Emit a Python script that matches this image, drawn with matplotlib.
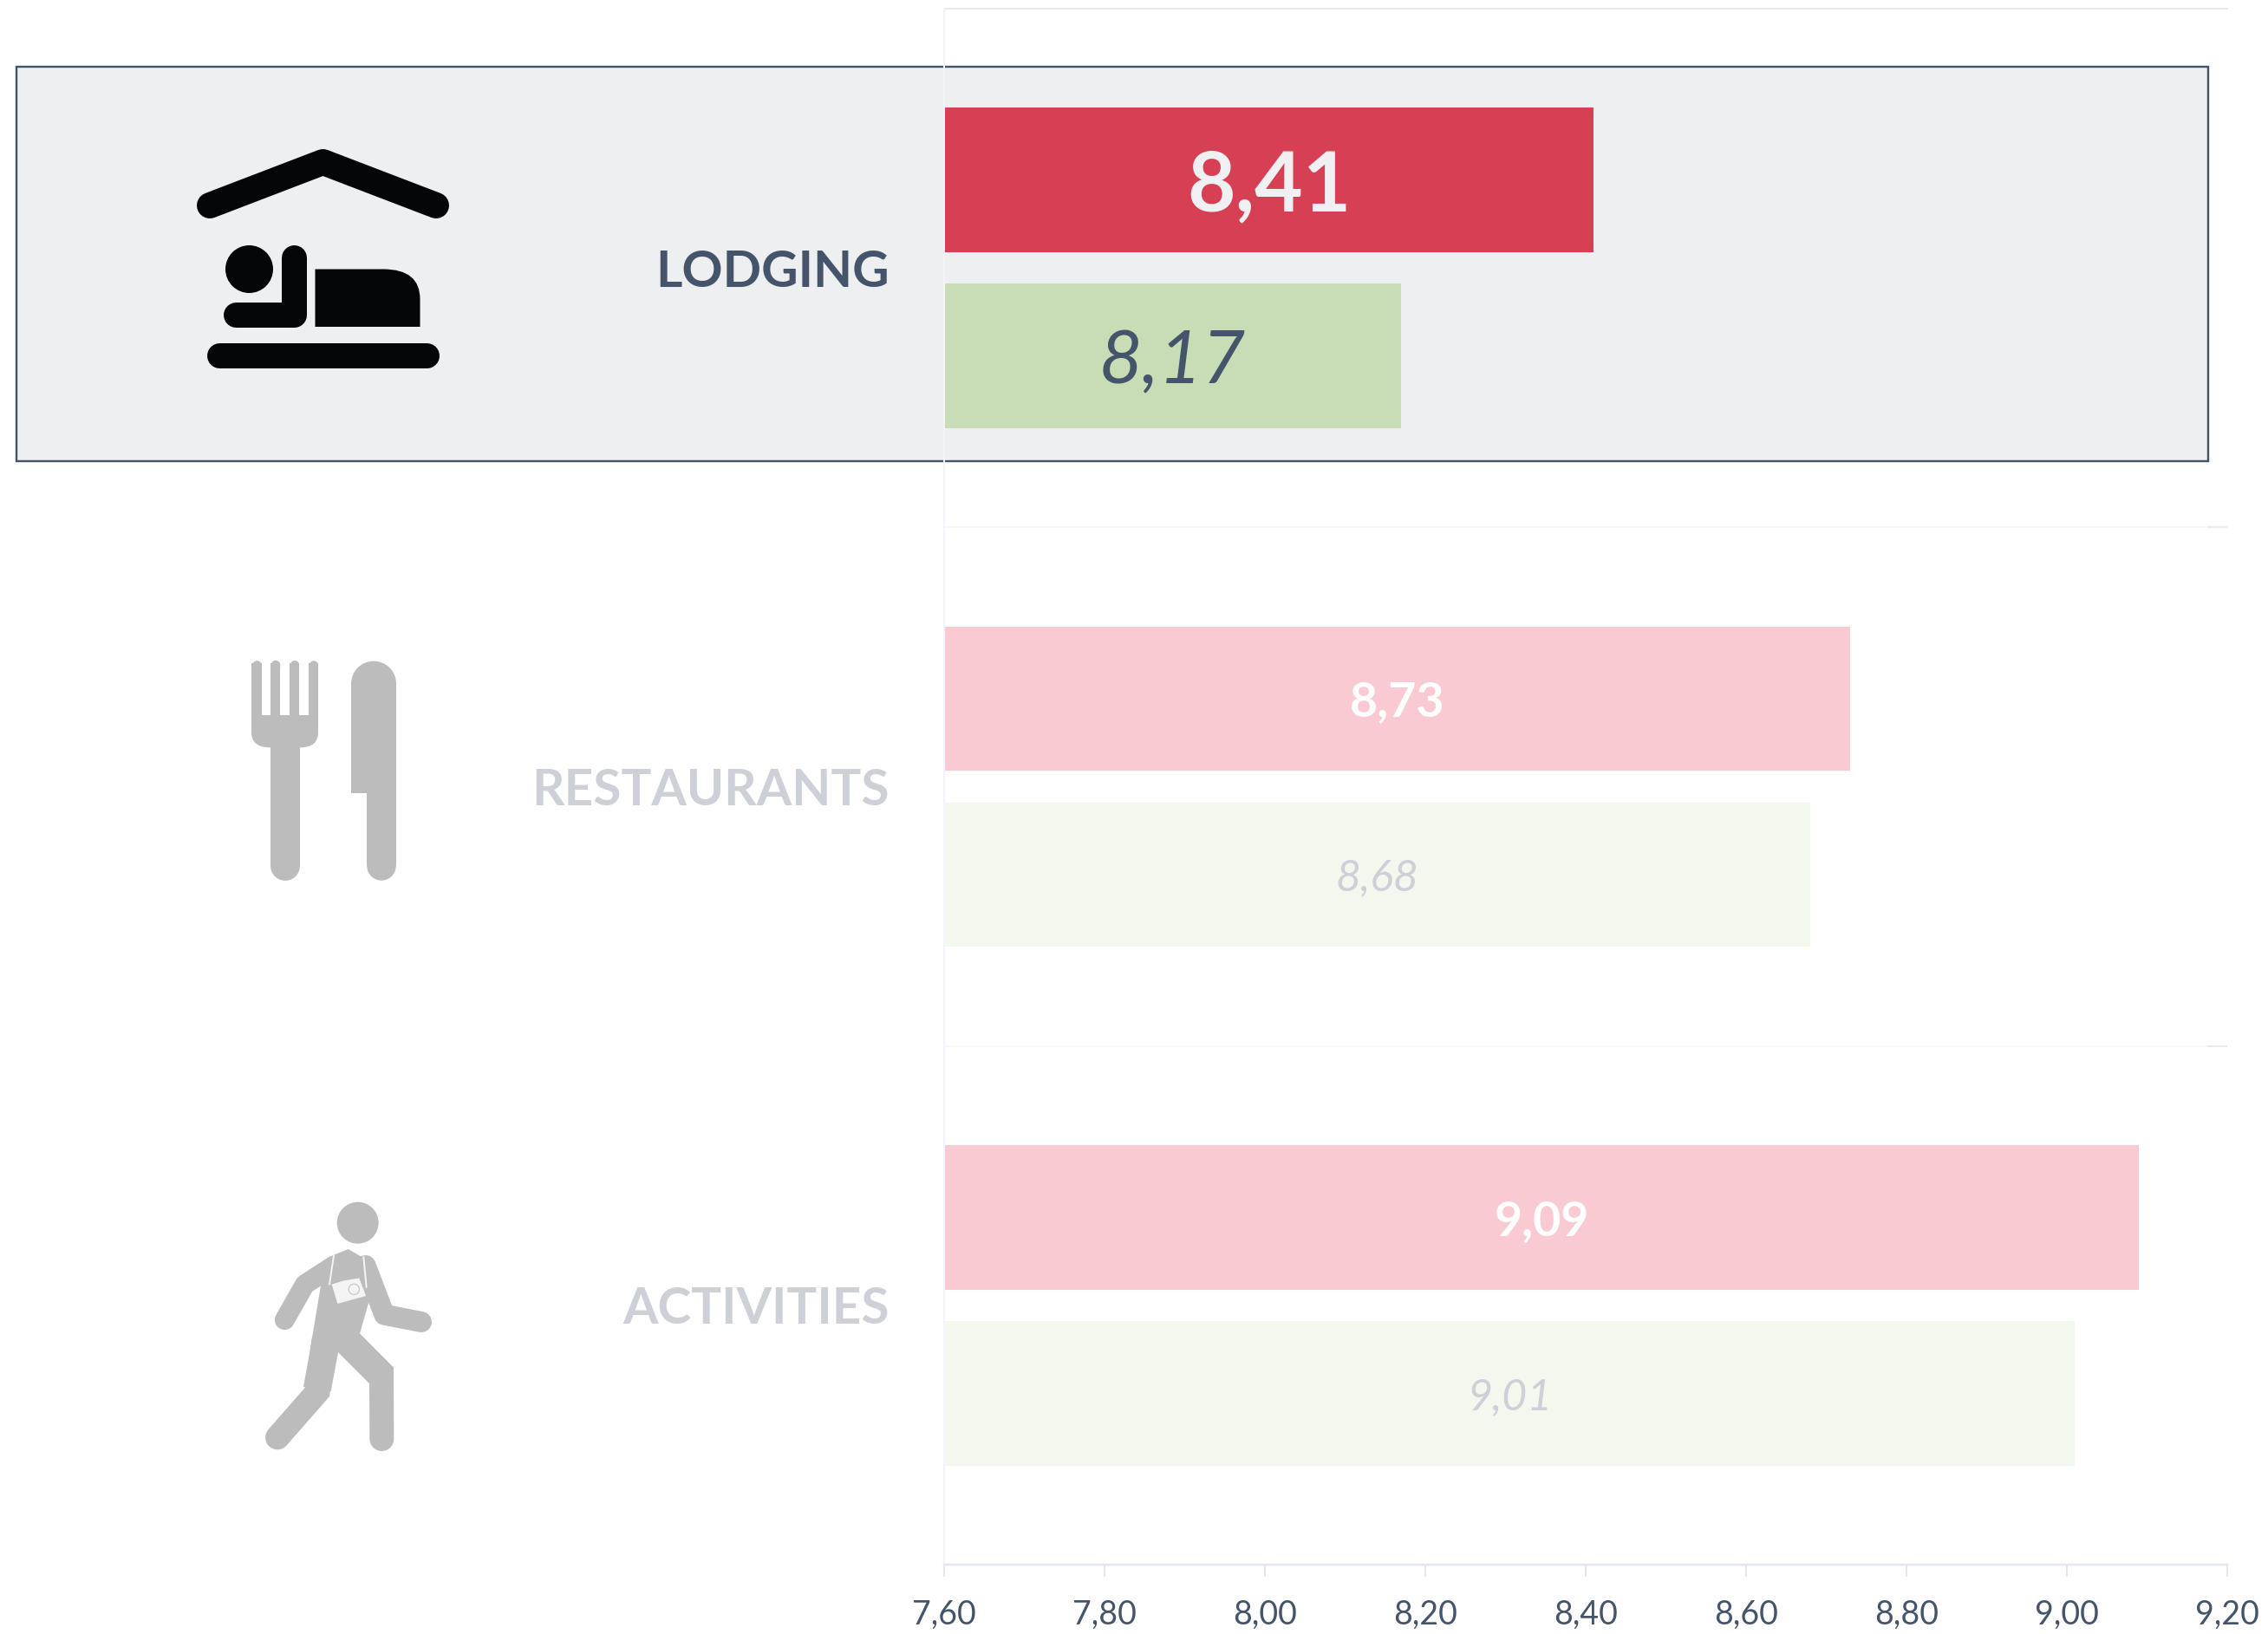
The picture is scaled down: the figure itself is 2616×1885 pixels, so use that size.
import matplotlib
matplotlib.use("Agg")
import matplotlib.pyplot as plt
from matplotlib.patches import Circle, PathPatch, Polygon, Rectangle
from matplotlib.path import Path

plt.rcParams['font.family'] = ['Lato', 'DejaVu Sans']

# data
categories = ['LODGING', 'RESTAURANTS', 'ACTIVITIES']
values_red = [8.41, 8.73, 9.09]
values_green = [8.17, 8.68, 9.01]
x_ticks = [7.6, 7.8, 8.0, 8.2, 8.4, 8.6, 8.8, 9.0, 9.2]

W, H = 2616, 1885
DPI = 200
PX = 72 / DPI  # one pixel in points

DARK = '#44546a'
FADED = '#cdd1d7'
ICON = '#bcbcbc'
BLACK = '#050609'

fig = plt.figure(figsize=(W / DPI, H / DPI), dpi=DPI, facecolor='white')

# overlay in pixel coordinates for the highlight box and the icons
bg = fig.add_axes([0, 0, 1, 1], zorder=0)
bg.set_xlim(0, W)
bg.set_ylim(H, 0)
bg.axis('off')

bg.add_patch(Rectangle((19, 76.5), 2528, 455.5, facecolor='#eeeff1', edgecolor=DARK, lw=2.4 * PX))


def stroke(pts, width, color, join='round'):
    xs, ys = zip(*pts)
    bg.plot(xs, ys, color=color, lw=width * PX, solid_capstyle='round', solid_joinstyle=join)


# lodging icon
stroke([(242, 237), (372.5, 187), (503, 237)], 30, BLACK, join='round')
bg.add_patch(Circle((287.5, 310.5), 27.5, color=BLACK, lw=0))
stroke([(272, 363), (339, 363), (339, 297)], 29, BLACK)
bg.add_patch(PathPatch(Path(
    [(363.5, 310.5), (442, 310.5), (484.5, 310.5), (484.5, 345), (484.5, 377), (363.5, 377), (363.5, 310.5)],
    [Path.MOVETO, Path.LINETO, Path.CURVE3, Path.CURVE3, Path.LINETO, Path.LINETO, Path.CLOSEPOLY]),
    facecolor=BLACK, lw=0))
stroke([(253, 410), (492, 410)], 29, BLACK)


# restaurant icon, drawn in zoomed-crop coordinates
def fx(X):
    return 240 + X / 3


def fy(Y):
    return 730 + Y / 3


for x0, x1 in [(150, 185), (216, 250), (283, 316), (349, 381)]:
    bg.add_patch(Rectangle((fx(x0), fy(106)), (x1 - x0) / 3, 190 / 3, color=ICON, lw=0))
    stroke([(fx((x0 + x1) / 2), fy(112)), (fx((x0 + x1) / 2), fy(130))], (x1 - x0) / 3 - 1, ICON)
bg.add_patch(PathPatch(Path(
    [(fx(150), fy(285)), (fx(381), fy(285)), (fx(381), fy(345)), (fx(381), fy(397)), (fx(318), fy(397)),
     (fx(318), fy(810)), (fx(216), fy(810)), (fx(216), fy(397)), (fx(150), fy(397)), (fx(150), fy(345)),
     (fx(150), fy(285))],
    [Path.MOVETO, Path.LINETO, Path.LINETO, Path.CURVE3, Path.CURVE3, Path.LINETO, Path.LINETO, Path.LINETO,
     Path.CURVE3, Path.CURVE3, Path.CLOSEPOLY]),
    facecolor=ICON, lw=0))
stroke([(fx(267), fy(500)), (fx(267), fy(806))], 34, ICON)
knife = [(495, 176), (651, 176), (651, 806), (550, 806), (550, 555), (495, 555)]
bg.add_patch(Polygon([(fx(a), fy(b)) for a, b in knife], color=ICON, lw=0))
bg.add_patch(Circle((fx(573), fy(176)), 26, color=ICON, lw=0))
stroke([(fx(600.5), fy(700)), (fx(600.5), fy(806))], 33.6, ICON)


# activities icon
def gx(X):
    return 270 + X / 3


def gy(Y):
    return 1360 + Y / 3


def gp(pts):
    return [(gx(a), gy(b)) for a, b in pts]


bg.add_patch(Circle((gx(428), gy(152)), 24, color=ICON, lw=0))
stroke(gp([(175, 488), (245, 365), (345, 300)]), 23, ICON)
stroke(gp([(455, 300), (520, 470), (648, 495)]), 24, ICON)
stroke(gp([(150, 895), (290, 735), (310, 560)]), 28, ICON, join='miter')
stroke(gp([(400, 560), (510, 670), (511, 900)]), 28, ICON, join='miter')
torso = [(340, 265), (395, 243), (460, 280), (468, 420), (435, 535), (550, 655), (470, 710),
         (360, 600), (335, 735), (240, 720), (265, 580), (300, 370)]
bg.add_patch(Polygon(gp(torso), color=ICON, lw=0))
# camera and strap
stroke(gp([(345, 265), (330, 365)]), 2, '#f4f4f4')
stroke(gp([(448, 270), (458, 375)]), 2, '#f4f4f4')
bg.add_patch(Polygon(gp([(338, 365), (380, 352), (440, 342), (456, 405), (358, 432)]), facecolor='#f4f4f4', lw=0))
bg.add_patch(Circle((gx(415), gy(382)), 8, facecolor='#c8c8c8', edgecolor='#f4f4f4', lw=2.5 * PX))
bg.add_patch(Circle((gx(415), gy(382)), 5.5, facecolor='#f4f4f4', lw=0))

# chart
left, right, top, bottom = 1089, 2569, 10, 1805
ax = fig.add_axes([left / W, 1 - bottom / H, (right - left) / W, (bottom - top) / H], zorder=1)
ax.patch.set_visible(False)
ax.set_xlim(x_ticks[0], x_ticks[-1])
ax.set_ylim(len(categories), 0)

bar_h = 166.5 / 598
offset = 101.5 / 598
reds = ['#d73f55', '#f9cad2', '#f9cad2']
greens = ['#c8ddb5', '#f3f8ef', '#f3f8ef']
red_text = ['#f0f0f2', 'white', 'white']
green_text = [DARK, FADED, FADED]
red_size = [34.5, 20, 20]
green_size = [31, 18, 18]
label_colors = [DARK, FADED, FADED]

for i in range(len(categories)):
    yc = i + 0.5
    ax.barh(yc - offset, values_red[i] - x_ticks[0], left=x_ticks[0], height=bar_h, color=reds[i])
    ax.barh(yc + offset, values_green[i] - x_ticks[0], left=x_ticks[0], height=bar_h, color=greens[i])
    ax.text((x_ticks[0] + values_red[i]) / 2, yc - offset, '{:.2f}'.format(values_red[i]).replace('.', ','),
            ha='center', va='center_baseline', color=red_text[i], fontsize=red_size[i], fontweight='bold')
    ax.text((x_ticks[0] + values_green[i]) / 2, yc + offset, '{:.2f}'.format(values_green[i]).replace('.', ','),
            ha='center', va='center_baseline', color=green_text[i], fontsize=green_size[i], fontstyle='italic')

# band separators
ax.axhline(0, color='#e6e9ef', lw=2 * PX, clip_on=False)
for b in [1, 2]:
    ax.axhline(b, color='#f6f7f9', lw=2 * PX)
    ax.plot([9.176, 9.2], [b, b], color='#e6e9ef', lw=2 * PX)

for s in ['top', 'right']:
    ax.spines[s].set_visible(False)
ax.spines['left'].set_color('#f2f4f7')
ax.spines['left'].set_linewidth(2 * PX)
ax.plot([x_ticks[0], x_ticks[0]], [0, 0.874], color='#dde1e8', lw=2 * PX, clip_on=False, zorder=1)
ax.spines['bottom'].set_color('#e3e7ee')
ax.spines['bottom'].set_linewidth(2.5 * PX)

ax.set_xticks(x_ticks, ['{:.2f}'.format(t).replace('.', ',') for t in x_ticks])
ax.tick_params(axis='x', length=14 * PX, width=2 * PX, color='#e3e7ee', labelcolor=DARK, labelsize=13.5, pad=9.3)

ax.set_yticks([i + 0.5 for i in range(len(categories))], categories)
ax.tick_params(axis='y', length=0, pad=63 * PX, labelsize=21)
for lab, c in zip(ax.get_yticklabels(), label_colors):
    lab.set_color(c)
    lab.set_fontweight('bold')

fig.savefig('out.png', dpi=DPI)
